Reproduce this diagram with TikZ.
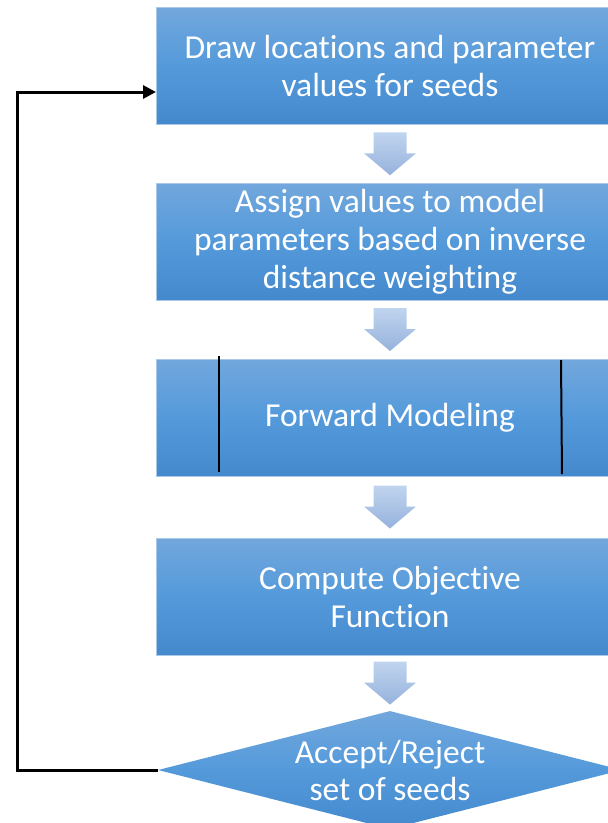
\documentclass[tikz,border=0pt]{standalone}
\usepackage{fontspec}
\setmainfont{Carlito}[Ligatures=NoCommon]
\usetikzlibrary{shapes.geometric,arrows.meta}

\definecolor{boxtop}{RGB}{114,167,220}
\definecolor{boxmid}{RGB}{84,154,219}
\definecolor{boxbot}{RGB}{68,137,204}
\definecolor{boxline}{RGB}{170,200,234}
\definecolor{arrtop}{RGB}{192,212,238}
\definecolor{arrbot}{RGB}{150,178,220}

\tikzset{
    stepbox/.style={rectangle, draw=boxline, line width=0.8pt,
        top color=boxtop, bottom color=boxbot, middle color=boxmid,
        minimum width=468pt, minimum height=117pt, inner sep=0pt,
        text=white, align=center, font=\fontsize{33.5}{38}\selectfont},
    decision/.style={diamond, draw=none, inner sep=0pt,
        top color=boxtop, bottom color=boxbot, middle color=boxmid,
        minimum width=464pt, minimum height=118pt},
    flowarrow/.style={top color=arrtop, bottom color=arrbot, draw=none},
    loopline/.style={line width=3pt, -{Triangle[length=13pt,width=13pt]}}
}

\begin{document}
\begin{tikzpicture}[x=1pt,y=-1pt]
\useasboundingbox (0,0) rectangle (608,823);
\clip (0,0) rectangle (608,823);

% Steps
\node[stepbox] (b1) at (390,66) {Draw locations and parameter\\values for seeds};
\node[stepbox] (b2) at (390,241.5) {Assign values to model\\parameters based on inverse\\distance weighting};
\node[stepbox] (b3) at (390,417.5) {Forward Modeling};
\node[stepbox] (b4) at (390,596.5) {Compute Objective\\Function};
\node[decision] (dec) at (390,770) {};
\node[text=white, align=center, font=\fontsize{33.5}{37}\selectfont] (dectext) at (dec.center) {Accept/Reject\\set of seeds};

% Process bars
\draw[line width=2pt] (219,356) -- (219,472);
\draw[line width=2pt] (561,360) -- (562,474);

% Block arrows
\foreach \a/\b in {b1/b2, b2/b3, b3/b4, b4/dec} {
    \path (\a.south) -- (\b.north) coordinate[midway] (mid-\a);
    \shade[flowarrow] (mid-\a) ++(-16.5,-21.5) -- ++(33,0) -- ++(0,21)
        -- ++(9.5,0) -- ++(-26,22) -- ++(-26,-22) -- ++(9.5,0) -- cycle;
}

% Loop back
\coordinate (turn) at (17,92);
\coordinate (entry) at (156,92);
\draw[loopline] (dec.west) -| (turn) -- (entry);
\end{tikzpicture}
\end{document}
